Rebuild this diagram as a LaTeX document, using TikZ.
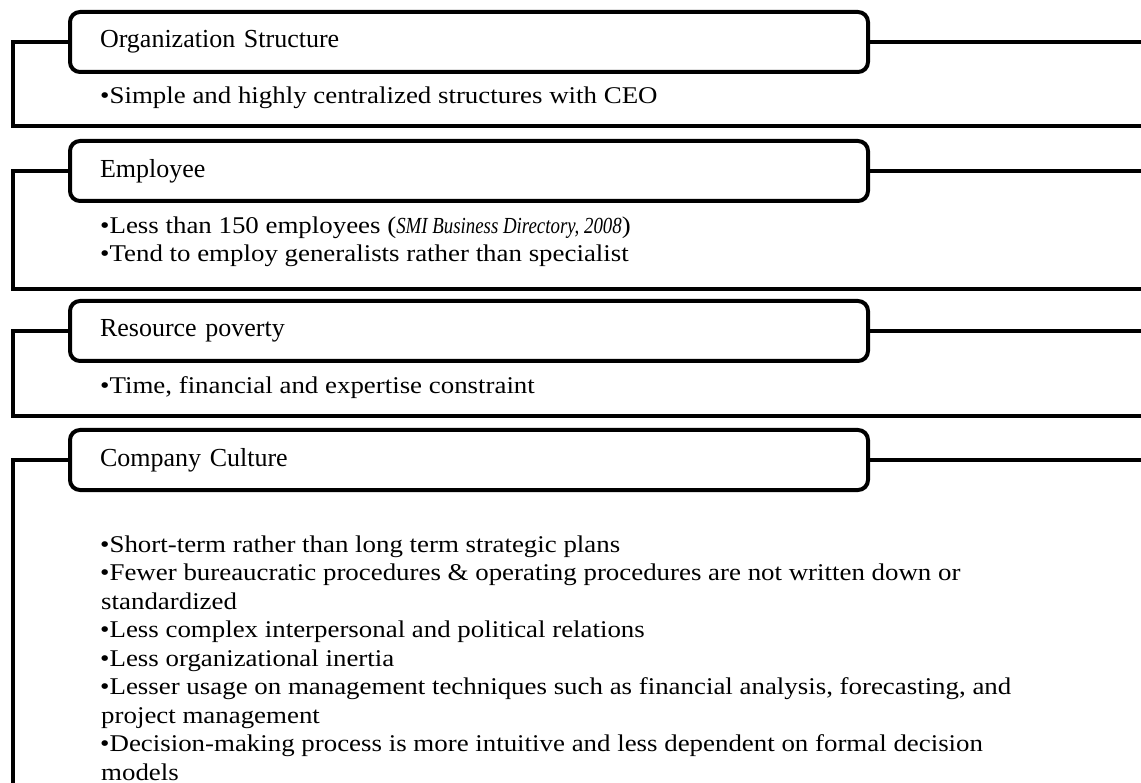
\documentclass[tikz,border=0pt]{standalone}
\usepackage{fontspec}
\setmainfont{Liberation Serif}
\newfontfamily\bodyfont{Liberation Serif}[FakeStretch=1.12]
\newfontfamily\citefont{Liberation Serif}[FakeStretch=0.82]
\usetikzlibrary{positioning, calc}

\tikzset{
  headbox/.style={draw, line width=4pt, rounded corners=10pt, anchor=west,
    minimum height=60pt, text width=738pt, align=left, inner xsep=30pt,
    inner ysep=0pt, font=\fontsize{26}{30}\selectfont},
  % base = linha de base da ultima linha
  bodytext/.style={anchor=base west, inner sep=0pt, align=left,
    font=\bodyfont\fontsize{24}{28.5}\selectfont},
  bracket/.style={line width=4.5pt, line join=miter},
  link/.style={line width=4pt}
}

\begin{document}
\begin{tikzpicture}[x=1pt, y=-1pt]
    \useasboundingbox (0,0) rectangle (1141,783);

    % Cabecalhos
    \node[headbox] (orgHead)  at (68,42)  {Organization Structure};
    \node[headbox] (empHead)  at (68,171) {Employee};
    \node[headbox] (resHead)  at (68,331) {Resource poverty};
    \node[headbox] (cultHead) at (68,460) {Company Culture};

    % Textos
    \node[bodytext] (orgBody) at (100,104)
      {\textbullet Simple and highly centralized structures with CEO};
    \node[bodytext] (empBody) at (100,262)
      {\textbullet Less than 150 employees ({\citefont\fontsize{23}{28.5}\selectfont\itshape SMI Business Directory, 2008})\\
       \textbullet Tend to employ generalists rather than specialist};
    \node[bodytext] (resBody) at (100,394)
      {\textbullet Time, financial and expertise constraint};
    \node[bodytext] (cultBody) at (100,780)
      {\textbullet Short-term rather than long term strategic plans\\
       \textbullet Fewer bureaucratic procedures \& operating procedures are not written down or\\
       \hspace*{1pt}standardized\\
       \textbullet Less complex interpersonal and political relations\\
       \textbullet Less organizational inertia\\
       \textbullet Lesser usage on management techniques such as financial analysis, forecasting, and\\
       \hspace*{1pt}project management\\
       \textbullet Decision-making process is more intuitive and less dependent on formal decision\\
       \hspace*{1pt}models};

    % Pontos das ligacoes
    \coordinate (orgFoot)  at (13,126);
    \coordinate (orgEnd)   at (1150,126);
    \coordinate (orgTail)  at (1150,42);
    \coordinate (empFoot)  at (13,289);
    \coordinate (empEnd)   at (1150,289);
    \coordinate (empTail)  at (1150,171);
    \coordinate (resFoot)  at (13,416);
    \coordinate (resEnd)   at (1150,416);
    \coordinate (resTail)  at (1150,331);
    \coordinate (cultFoot) at (13,790);
    \coordinate (cultTail) at (1150,460);

    % Ligacoes
    \draw[bracket] (orgHead.west) -| (orgFoot) -- (orgEnd);
    \draw[link] (orgHead.east) -- (orgTail);
    \draw[bracket] (empHead.west) -| (empFoot) -- (empEnd);
    \draw[link] (empHead.east) -- (empTail);
    \draw[bracket] (resHead.west) -| (resFoot) -- (resEnd);
    \draw[link] (resHead.east) -- (resTail);
    \draw[bracket] (cultHead.west) -| (cultFoot);
    \draw[link] (cultHead.east) -- (cultTail);
\end{tikzpicture}
\end{document}
